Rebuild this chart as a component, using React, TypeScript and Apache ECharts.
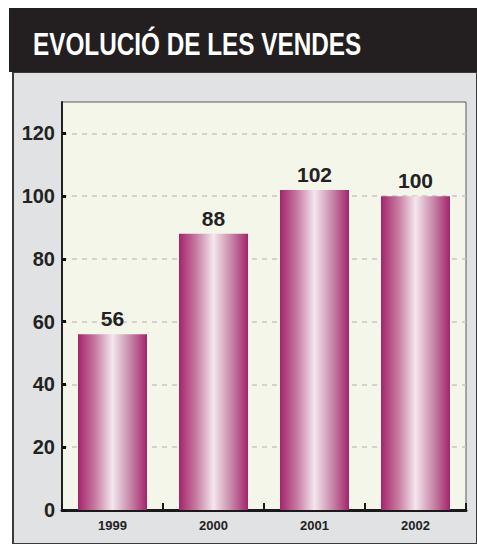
import React, { useEffect, useRef } from "react";
import * as echarts from "echarts";

const categories = ["1999", "2000", "2001", "2002"];
const sales = [56, 88, 102, 100];
const yTicks = [0, 20, 40, 60, 80, 100, 120];
const title = "EVOLUCIÓ DE LES VENDES";

const FONT = "'Liberation Sans', Arial, sans-serif";

export default function App() {
  const ref = useRef<HTMLDivElement>(null);
  useEffect(() => {
    if (!ref.current) return;
    const chart = echarts.init(ref.current, null, { renderer: "svg" });
    chart.setOption({
      animation: false,
      backgroundColor: "#ffffff",
      graphic: [
        { type: "rect", z: -10, shape: { x: 13, y: 72, width: 464, height: 472 }, style: { fill: "#e1e2e4", stroke: "#3a3a3a", lineWidth: 2 } },
        { type: "rect", z: -9, shape: { x: 9, y: 8, width: 468, height: 64 }, style: { fill: "#231f20" } },
        { type: "text", z: 10, x: 33, y: 44, scaleX: 0.76, style: { text: title, fill: "#ffffff", font: `bold 32px ${FONT}`, textVerticalAlign: "middle" } },
      ],
      grid: {
        left: 62, right: 11, top: 102, bottom: 34,
        show: true, backgroundColor: "#f3f6e9", borderColor: "#5a5a5a", borderWidth: 1,
      },
      xAxis: {
        type: "category",
        data: categories,
        axisLine: { lineStyle: { color: "#1a1a1a", width: 3 } },
        axisTick: { show: true, inside: true, length: 7, lineStyle: { color: "#1a1a1a", width: 2 } },
        axisLabel: { color: "#222", fontFamily: FONT, fontWeight: "bold", fontSize: 13, margin: 9 },
      },
      yAxis: {
        type: "value",
        min: 0, max: 130, interval: 20,
        axisLine: { show: true, lineStyle: { color: "#222", width: 2 } },
        axisTick: { show: true, inside: true, length: 4, customValues: yTicks, lineStyle: { color: "#111", width: 3 } },
        axisLabel: {
          color: "#222", fontFamily: FONT, fontWeight: "bold", fontSize: 20, margin: 7,
          customValues: yTicks,
        },
        splitLine: { show: true, lineStyle: { color: "#c8c8c8", type: [5, 5], width: 1.5 } },
      },
      series: [
        {
          type: "bar",
          data: sales,
          barWidth: 69,
          itemStyle: {
            color: new echarts.graphic.LinearGradient(0, 0, 1, 0, [
              { offset: 0, color: "#a3246b" },
              { offset: 0.25, color: "#c77ba2" },
              { offset: 0.5, color: "#f4e6ee" },
              { offset: 0.75, color: "#c98aab" },
              { offset: 1, color: "#a3246b" },
            ]),
          },
          label: {
            show: true, position: "top", distance: 5,
            color: "#222", fontFamily: FONT, fontWeight: "bold", fontSize: 21,
          },
        },
      ],
    });
    return () => chart.dispose();
  }, []);
  return <div ref={ref} style={{ position: "fixed", left: 0, top: 0, width: 477, height: 544 }} />;
}
